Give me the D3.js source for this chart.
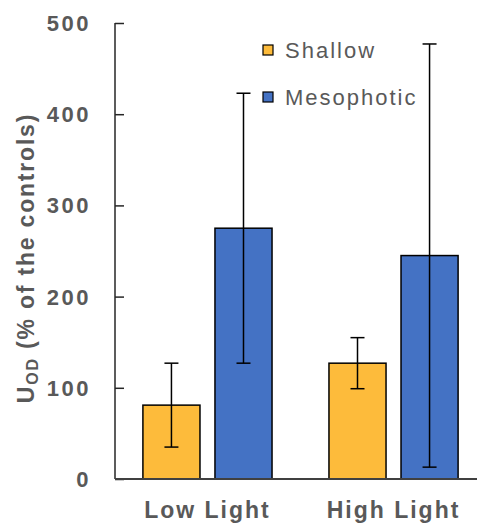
<!DOCTYPE html>
<html><head><meta charset="utf-8">
<script src="https://cdn.jsdelivr.net/npm/d3@7/dist/d3.min.js"></script>
<style>body{margin:0;background:#fff}svg{display:block}</style>
</head><body>
<svg id="c" width="477" height="526"></svg>
<script>
const categories = ["Low Light", "High Light"];
const seriesNames = ["Shallow", "Mesophotic"];
const shallowValues = [81, 127];
const shallowErrors = [46, 28];
const mesophoticValues = [275, 245];
const mesophoticErrors = [148, 232];
const yTicks = [0, 100, 200, 300, 400, 500];
const colors = ["#FDBB3B", "#4472C4"];

const svg = d3.select("#c");
const m = {l:115, r:0, t:23, b:47};
const W = 477, H = 526;
const y = d3.scaleLinear().domain([0,500]).range([H-m.b, m.t]);
const x0 = d3.scaleBand().domain(categories).range([m.l, m.l + 371]).paddingInner(0.306).paddingOuter(0.15);
const x1 = d3.scaleBand().domain(seriesNames).range([0, x0.bandwidth()]).paddingInner(0.208);

const txt = "#595959";
const FF = "Liberation Sans, Arial, sans-serif";
const data = categories.map((c,i)=>({c, vals:[
  {s:"Shallow", v:shallowValues[i], e:shallowErrors[i]},
  {s:"Mesophotic", v:mesophoticValues[i], e:mesophoticErrors[i]}]}));

const g = svg.append("g");
const grp = g.selectAll("g.cat").data(data).join("g").attr("transform", d=>`translate(${x0(d.c)},0)`);
grp.selectAll("rect").data(d=>d.vals).join("rect")
  .attr("x", d=>x1(d.s)).attr("width", x1.bandwidth())
  .attr("y", d=>y(d.v)).attr("height", d=>y(0)-y(d.v))
  .attr("fill", (d,i)=>colors[i]).attr("stroke", "#000").attr("stroke-width", 1.5);
const eb = grp.selectAll("g.eb").data(d=>d.vals).join("g");
eb.append("line").attr("x1", d=>x1(d.s)+x1.bandwidth()/2).attr("x2", d=>x1(d.s)+x1.bandwidth()/2)
  .attr("y1", d=>y(d.v+d.e)).attr("y2", d=>y(d.v-d.e)).attr("stroke","#000").attr("stroke-width",1.5);
[1,-1].forEach(sg=>{
  eb.append("line").attr("x1", d=>x1(d.s)+x1.bandwidth()/2-7).attr("x2", d=>x1(d.s)+x1.bandwidth()/2+7)
    .attr("y1", d=>y(d.v+sg*d.e)).attr("y2", d=>y(d.v+sg*d.e)).attr("stroke","#000").attr("stroke-width",1.5);
});

// y axis
const ya = svg.append("g").attr("transform",`translate(${m.l},0)`)
  .call(d3.axisRight(y).tickValues(yTicks).tickSize(9).tickFormat(""));
ya.select(".domain").remove();
ya.selectAll("line").attr("stroke","#262626").attr("stroke-width",1.5);
svg.append("line").attr("x1",m.l).attr("x2",m.l).attr("y1",y(500)).attr("y2",y(0)).attr("stroke","#262626").attr("stroke-width",1.5);
svg.append("line").attr("x1",m.l).attr("x2",W).attr("y1",y(0)).attr("y2",y(0)).attr("stroke","#404040").attr("stroke-width",2);
svg.append("g").selectAll("text").data(yTicks).join("text")
  .attr("x", 91).attr("y", d=>y(d)).attr("dy","0.36em").attr("text-anchor","end")
  .attr("font-family",FF).attr("font-size",22).attr("letter-spacing","2.5px")
  .attr("font-weight","bold").attr("fill",txt).text(d=>d);

// x labels
svg.append("g").selectAll("text").data(categories).join("text")
  .attr("x", d=>x0(d)+x0.bandwidth()/2).attr("y", 518).attr("text-anchor","middle")
  .attr("font-family",FF).attr("font-size",23).attr("letter-spacing","2px")
  .attr("font-weight","bold").attr("fill",txt).text(d=>d);

// y label
const yl = svg.append("text").attr("transform",`translate(34,258) rotate(-90)`).attr("text-anchor","middle")
  .attr("font-family",FF).attr("font-size",23).attr("letter-spacing","1.8px").attr("font-weight","bold").attr("fill",txt);
yl.append("tspan").text("U");
yl.append("tspan").attr("font-size",16).attr("dy",4).text("OD");
yl.append("tspan").attr("dy",-4).text(" (% of the controls)");

// legend
const lg = svg.append("g");
seriesNames.forEach((s,i)=>{
  const cy = 50 + i*47;
  lg.append("rect").attr("x",263).attr("y",cy-5).attr("width",10).attr("height",10)
    .attr("fill",colors[i]).attr("stroke","#000").attr("stroke-width",1.2);
  lg.append("text").attr("x",285).attr("y",cy).attr("dy","0.36em")
    .attr("font-family",FF).attr("font-size",22).attr("letter-spacing","2px")
    .attr("fill",txt).text(s);
});
</script>
</body></html>
